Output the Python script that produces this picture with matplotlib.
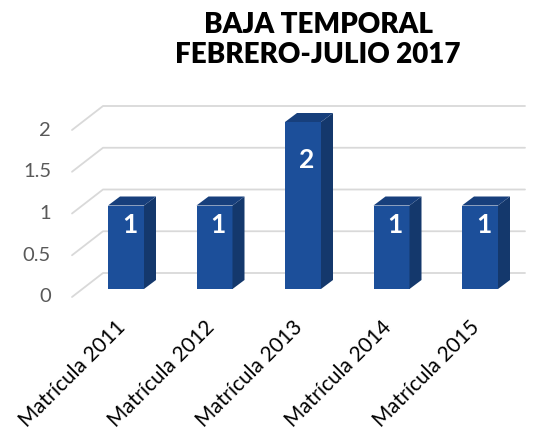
import numpy as np
import matplotlib
matplotlib.use("Agg")
import matplotlib.pyplot as plt
from matplotlib.patches import Polygon

# ---------------- DATA ----------------
categories = ["Matrícula 2011", "Matrícula 2012", "Matrícula 2013",
              "Matrícula 2014", "Matrícula 2015"]
values = [1, 1, 2, 1, 1]
yticks = [0, 0.5, 1, 1.5, 2]
ytick_labels = ["0", "0.5", "1", "1.5", "2"]
title = "BAJA TEMPORAL\nFEBRERO-JULIO 2017"

# ---------------- STYLE ----------------
FRONT = "#1c4f9a"
SIDE = "#14386c"
TOP = "#173f7c"
GRID = "#d9d9d9"

W, H = 538, 434
PX_X = 88.5   # pixels per category
PX_Y = 83.5   # pixels per unit
X0, Y0 = 126, 289  # pixel of first category / zero line

fig = plt.figure(figsize=(W / 100, H / 100), dpi=100)
ax = fig.add_axes([0, 0, 1, 1])
ax.set_xlim(-X0 / PX_X, (W - X0) / PX_X)
ax.set_ylim(-(H - Y0) / PX_Y, Y0 / PX_Y)
ax.axis("off")

def px(dx, dy):
    # pixel offsets -> data offsets
    return dx / PX_X, dy / PX_Y

# ---------------- FLOOR / GRID ----------------
fx, fy = px(-54, -8)     # front edge of the wall
bx, by = px(-23, 16)     # back edge of the wall
ex, _ = px(399, 0)       # right end of gridlines
for v, lab in zip(yticks, ytick_labels):
    ax.plot([fx, bx, ex], [v + fy, v + by, v + by], color=GRID, lw=1.3,
            solid_capstyle="round", zorder=1)
    ax.text(px(-75, 0)[0], v + fy, lab, ha="right", va="center",
            fontsize=14.5, color="#595959", family="Lato")

# ---------------- BARS ----------------
bw = 36 / PX_X
ddx, ddy = px(12, 9)
for i, v in enumerate(values):
    l, r = i - bw / 2, i + bw / 2
    ax.add_patch(Polygon([(l, 0), (r, 0), (r, v), (l, v)], closed=True,
                         fc=FRONT, ec="none", zorder=3))
    ax.add_patch(Polygon([(r, 0), (r + ddx, ddy), (r + ddx, v + ddy), (r, v)],
                         closed=True, fc=SIDE, ec="none", zorder=3))
    ax.add_patch(Polygon([(l, v), (r, v), (r + ddx, v + ddy), (l + ddx, v + ddy)],
                         closed=True, fc=TOP, ec="none", zorder=3))
    ax.text(i + 0.04, v * 0.77, str(v), ha="center", va="center",
            color="white", fontsize=19, fontweight="bold", family="Lato",
            zorder=4)

# ---------------- CATEGORY LABELS ----------------
for i, c in enumerate(categories):
    ax.text(i - 0.12, px(0, -28)[1], c, rotation=45, rotation_mode="anchor",
            ha="right", va="top", fontsize=15, color="black", family="Lato")

# ---------------- TITLE ----------------
ax.text((318 - X0) / PX_X, (Y0 - 40) / PX_Y, title, ha="center", va="center",
        fontsize=20, fontweight="heavy", family="Lato", linespacing=1.2)

fig.savefig("out.png", dpi=100)
